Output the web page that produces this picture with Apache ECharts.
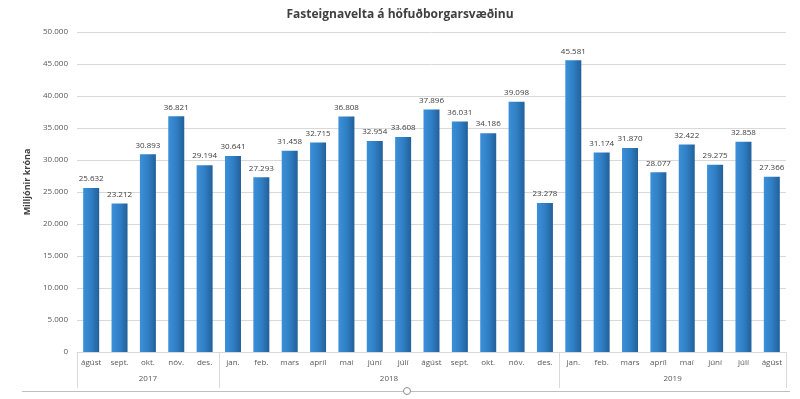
<!DOCTYPE html>
<html>
<head>
<meta charset="utf-8">
<script src="https://cdn.jsdelivr.net/npm/echarts@6/dist/echarts.min.js"></script>
<style>
  html, body { margin: 0; padding: 0; background: #fff; }
  #chart { width: 800px; height: 399px; }
</style>
</head>
<body>
<div id="chart"></div>
<script>
// mánuðir og ár
var months = ['ágúst', 'sept.', 'okt.', 'nóv.', 'des.',
  'jan.', 'feb.', 'mars', 'apríl', 'maí', 'júní', 'júlí', 'ágúst', 'sept.', 'okt.', 'nóv.', 'des.',
  'jan.', 'feb.', 'mars', 'apríl', 'maí', 'júní', 'júlí', 'ágúst'];
var years = ['2017', '2018', '2019'];
var yearCounts = [5, 12, 8];

// velta í milljónum króna
var values = [25632, 23212, 30893, 36821, 29194,
  30641, 27293, 31458, 32715, 36808, 32954, 33608, 37896, 36031, 34186, 39098, 23278,
  45581, 31174, 31870, 28077, 32422, 29275, 32858, 27366];

var yTicks = [0, 5000, 10000, 15000, 20000, 25000, 30000, 35000, 40000, 45000, 50000];

function fmt(v) {
  return String(v).replace(/\B(?=(\d{3})+(?!\d))/g, '.');
}

// ára-ás: hálf-bil, merki í miðju hvers árs og strik á mörkum
var yearSlots = [];
var yearBounds = [0];
for (var i = 0; i <= months.length * 2; i++) yearSlots.push('');
var start = 0;
for (var k = 0; k < years.length; k++) {
  var end = start + yearCounts[k];
  yearSlots[start + end] = years[k];
  yearBounds.push(end * 2);
  start = end;
}

var chart = echarts.init(document.getElementById('chart'));
var font = 'Open Sans';

chart.setOption({
  animation: false,
  textStyle: { fontFamily: font },
  title: {
    text: 'Fasteignavelta á höfuðborgarsvæðinu',
    left: 'center',
    top: 4,
    textStyle: { fontSize: 12, fontWeight: 'bold', color: '#404040', fontFamily: font }
  },
  grid: { left: 77, right: 14, top: 32, bottom: 47 },
  xAxis: [
    {
      type: 'category',
      data: months,
      axisLine: { lineStyle: { color: '#d9d9d9' } },
      axisTick: { show: false },
      axisLabel: { color: '#595959', fontSize: 8, margin: 7, interval: 0 }
    },
    {
      type: 'category',
      data: yearSlots,
      position: 'bottom',
      boundaryGap: false,
      axisLine: { show: false },
      axisTick: {
        show: true,
        length: 36,
        interval: function (idx) { return yearBounds.indexOf(idx) >= 0; },
        lineStyle: { color: '#d9d9d9' }
      },
      axisLabel: {
        color: '#595959', fontSize: 8, margin: 23,
        interval: function (idx, val) { return val !== ''; }
      }
    }
  ],
  yAxis: {
    type: 'value',
    min: yTicks[0],
    max: yTicks[yTicks.length - 1],
    interval: 5000,
    name: 'Milljónir króna',
    nameLocation: 'middle',
    nameGap: 43,
    nameTextStyle: { fontSize: 9, fontWeight: 'bold', color: '#404040', fontFamily: font, padding: [0, 0, 0, 20] },
    axisLine: { show: false },
    axisTick: { show: false },
    axisLabel: { color: '#595959', fontSize: 8, margin: 9, formatter: fmt },
    splitLine: { lineStyle: { color: '#d9d9d9' } }
  },
  series: [{
    type: 'bar',
    data: values,
    barWidth: 16,
    itemStyle: {
      color: new echarts.graphic.LinearGradient(0, 0, 1, 0, [
        { offset: 0, color: '#3b90d8' },
        { offset: 0.5, color: '#307fc5' },
        { offset: 1, color: '#22609a' }
      ])
    },
    label: {
      show: true,
      position: 'top',
      distance: 5,
      fontSize: 8,
      color: '#404040',
      formatter: function (p) { return fmt(p.value); }
    }
  }],
  graphic: [
    { type: 'line', shape: { x1: 22, y1: 391.5, x2: 790, y2: 391.5 }, style: { stroke: '#bfbfbf', lineWidth: 1 } },
    { type: 'circle', shape: { cx: 407, cy: 391, r: 3.5 }, style: { fill: '#fff', stroke: '#8c8c8c', lineWidth: 1 } }
  ]
});
</script>
</body>
</html>
